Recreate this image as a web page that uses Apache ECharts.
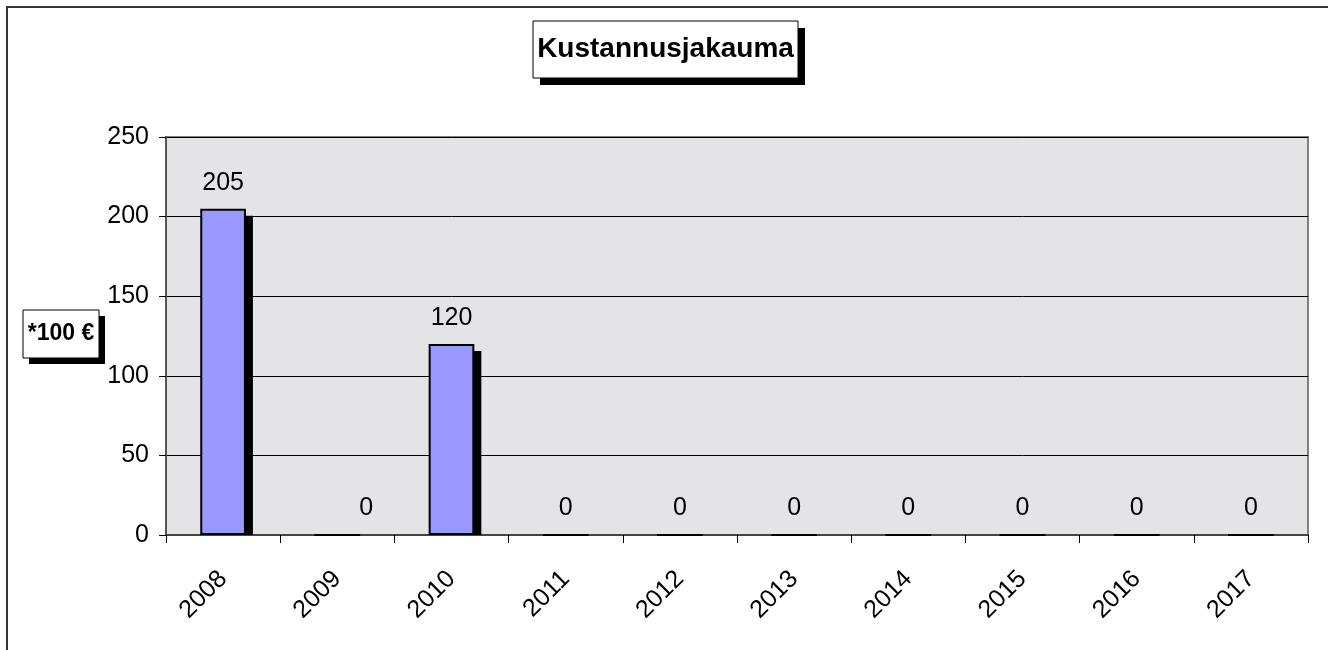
<!DOCTYPE html>
<html>
<head>
<meta charset="utf-8">
<script src="https://cdn.jsdelivr.net/npm/echarts@6/dist/echarts.min.js"></script>
<style>
  html, body { margin: 0; padding: 0; background: #fff; }
  #main { width: 1328px; height: 650px; }
</style>
</head>
<body>
<div id="main"></div>
<script>
// vuodet ja kustannukset (*100 €)
var years = ['2008', '2009', '2010', '2011', '2012', '2013', '2014', '2015', '2016', '2017'];
var costs = [205, 0, 120, 0, 0, 0, 0, 0, 0, 0];
var yTicks = [0, 50, 100, 150, 200, 250];

var font = '"Liberation Sans", Arial, sans-serif';
var myChart = echarts.init(document.getElementById('main'));

// 2009 label sits a bit to the right in the original
var barData = costs.map(function (v, i) {
  if (i === 1) return { value: v, label: { offset: [29, 0] } };
  return v;
});

// box with a hard black drop shadow
function shadowBox(x, y, w, h, off, text, size) {
  return {
    type: 'group',
    silent: true,
    children: [
      { type: 'rect', shape: { x: x + off, y: y + off, width: w, height: h }, style: { fill: '#000' } },
      { type: 'rect', shape: { x: x, y: y, width: w, height: h }, style: { fill: '#fff', stroke: '#000', lineWidth: 1 } },
      {
        type: 'text',
        x: x + w / 2,
        y: y + h / 2,
        style: {
          text: text,
          fill: '#000',
          font: 'bold ' + size + 'px ' + font,
          textAlign: 'center',
          textVerticalAlign: 'middle'
        }
      }
    ]
  };
}

var option = {
  backgroundColor: '#fff',
  animation: false,
  textStyle: { fontFamily: font },
  graphic: [
    {
      type: 'rect',
      silent: true,
      shape: { x: 7, y: 7, width: 1400, height: 700 },
      style: { fill: 'none', stroke: '#333', lineWidth: 2 }
    },
    shadowBox(533, 21, 265, 57, 7, 'Kustannusjakauma', 28),
    shadowBox(23, 310, 76, 48, 6, '*100 €', 23)
  ],
  grid: {
    left: 166,
    right: 20,
    top: 137,
    bottom: 115,
    show: true,
    backgroundColor: '#e4e4e7',
    borderColor: '#808080',
    borderWidth: 2
  },
  xAxis: {
    type: 'category',
    data: years,
    axisLine: { lineStyle: { color: '#444', width: 2 } },
    axisTick: { show: true, length: 8, lineStyle: { color: '#000' } },
    axisLabel: {
      rotate: 45,
      margin: 40,
      fontSize: 25,
      color: '#000',
      fontFamily: font
    }
  },
  yAxis: {
    type: 'value',
    min: yTicks[0],
    max: yTicks[yTicks.length - 1],
    interval: 50,
    axisLine: { show: true, lineStyle: { color: '#555', width: 2 } },
    axisTick: { show: true, length: 7, lineStyle: { color: '#000' } },
    axisLabel: { margin: 17, fontSize: 25, color: '#000', fontFamily: font },
    splitLine: { lineStyle: { color: '#000', width: 1 } }
  },
  series: [
    {
      // bar shadows
      type: 'custom',
      data: costs,
      silent: true,
      z: 1,
      renderItem: function (params, api) {
        var v = api.value(0);
        if (!v) return null;
        var top = api.coord([api.value(0, params.dataIndex) * 0 + params.dataIndex, v]);
        var base = api.coord([params.dataIndex, 0]);
        var bw = api.size([1, 0])[0] * 0.4;
        var off = 7;
        return {
          type: 'rect',
          shape: { x: top[0] - bw / 2 + off, y: top[1] + off, width: bw, height: base[1] - top[1] - off },
          style: { fill: '#000' }
        };
      },
      encode: { x: -1, y: 0 }
    },
    {
      type: 'bar',
      data: barData,
      barWidth: '40%',
      z: 2,
      itemStyle: {
        color: '#9999ff',
        borderColor: '#000',
        borderWidth: 2
      },
      label: {
        show: true,
        position: 'top',
        distance: 13,
        fontSize: 25,
        color: '#000',
        fontFamily: font
      }
    }
  ]
};

myChart.setOption(option);
</script>
</body>
</html>
